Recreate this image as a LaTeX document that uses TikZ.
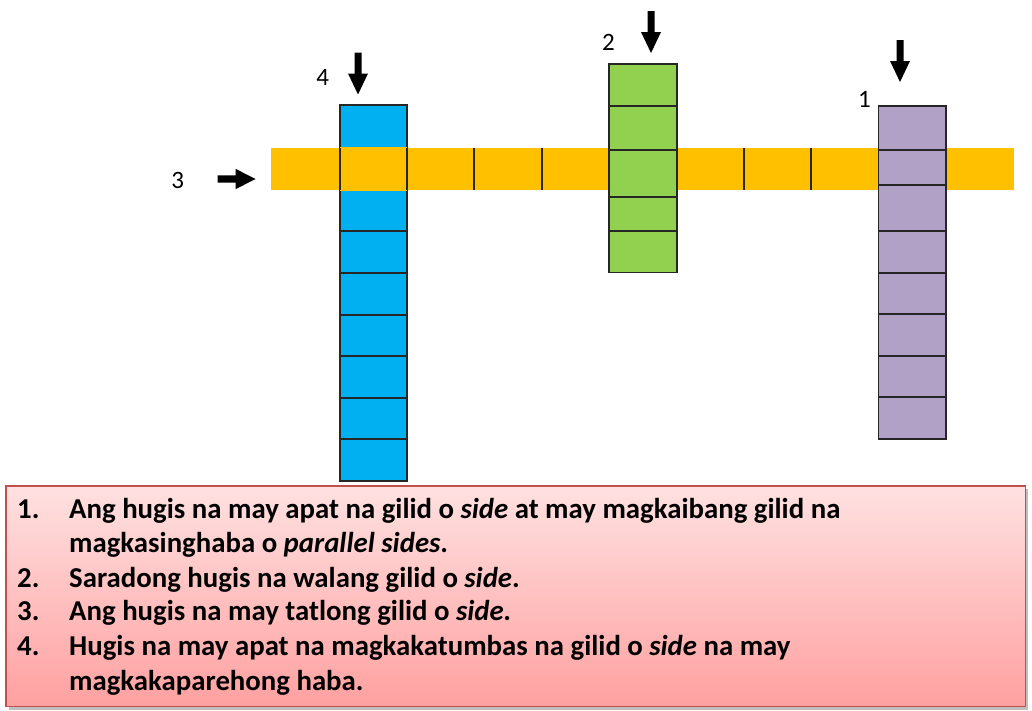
\documentclass[tikz,border=0pt]{standalone}
\usepackage{fontspec}
\setmainfont{Carlito}
\definecolor{cblue}{RGB}{0,176,240}
\definecolor{corange}{RGB}{255,192,0}
\definecolor{cgreen}{RGB}{146,208,80}
\definecolor{cpurple}{RGB}{178,161,199}
\definecolor{boxtop}{RGB}{255,225,225}
\definecolor{boxbot}{RGB}{255,160,160}
\definecolor{boxline}{RGB}{192,80,77}
\begin{document}
\begin{tikzpicture}[x=1pt,y=-1pt,
  cellline/.style={draw=black!85,line width=1.1pt},
  lab/.style={font=\fontsize{25}{25}\selectfont,inner sep=0pt},
  clue/.style={font=\bfseries\fontsize{28.8}{32}\selectfont,inner sep=0pt,anchor=base west},
  pics/darrow/.style={code={\fill[black] (-3.5,-42) -- (3.5,-42) -- (3.5,-21) -- (10,-21) -- (0,0) -- (-10,-21) -- (-3.5,-21) -- cycle;}},
  pics/rarrow/.style={code={\fill[black] (-38,-3.7) -- (-20,-3.7) -- (-20,-10.2) -- (0,0) -- (-20,10.2) -- (-20,3.7) -- (-38,3.7) -- cycle;}}]
\useasboundingbox (0,0) rectangle (1032,710);
% blue column (4)
\foreach \a/\b in {105/148,148/190,190/231,231/273,273/315,315/356,356/398,398/439,439/481}
  \draw[cellline,fill=cblue] (340,\a) rectangle (407,\b);
% orange bar (3)
\fill[corange] (271,148) rectangle (1014,190);
\fill[corange] (340,147.4) rectangle (407,190.6);
\foreach \x in {340,407,474,542}
  \draw[cellline] (\x,148) -- (\x,190);
\foreach \x in {744,811}
  \draw[cellline] (\x,148) -- (\x,190);
% green column (2)
\foreach \a/\b in {64/106,106/150,150/197,197/231,231/272.7}
  \draw[cellline,fill=cgreen] (609,\a) rectangle (677,\b);
% purple column (1)
\foreach \a/\b in {106/150,150/185,185/231,231/273,273/314,314/356,356/397,397/439}
  \draw[cellline,fill=cpurple] (878.5,\a) rectangle (946,\b);
% arrows
\pic at (358,94.5) {darrow};
\pic at (651,53) {darrow};
\pic at (900,82) {darrow};
\pic at (255.5,179) {rarrow};
% labels
\node[lab] (l4) at (322.7,77.3) {4};
\node[lab] (l2) at (608.5,42) {2};
\node[lab] (l3) at (177.7,180.5) {3};
\node[lab] (l1) at (864.5,99.5) {1};
% clue box
\fill[black,opacity=0.25] (8.5,489) rectangle (1028,710);
\draw[boxline,line width=1.2pt,top color=boxtop,bottom color=boxbot] (6,486) rectangle (1025.3,706.7);
\node[clue] (n1) at (17,518) {1.};
\node[clue] (t1a) at (69,518) {Ang hugis na may apat na gilid o \textit{side} at may magkaibang gilid na};
\node[clue] (t1b) at (69,552.7) {magkasinghaba o \textit{parallel sides}.};
\node[clue] (n2) at (17,587.3) {2.};
\node[clue] (t2) at (69,587.3) {Saradong hugis na walang gilid o \textit{side}.};
\node[clue] (n3) at (17,620.7) {3.};
\node[clue] (t3) at (69,620.7) {Ang hugis na may tatlong gilid o \textit{side.}};
\node[clue] (n4) at (17,655.7) {4.};
\node[clue] (t4a) at (69,655.7) {Hugis na may apat na magkakatumbas na gilid o \textit{side} na may};
\node[clue] (t4b) at (69,690) {magkakaparehong haba.};
\end{tikzpicture}
\end{document}
